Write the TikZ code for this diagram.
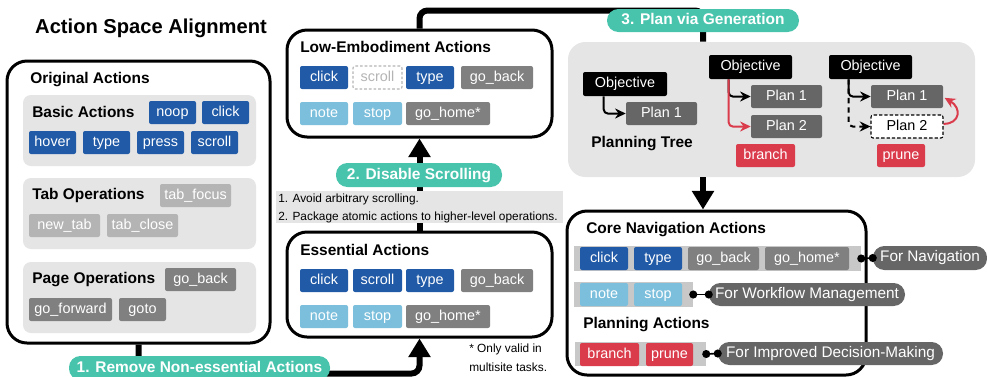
\documentclass[tikz,border=0pt]{standalone}
\usepackage{fontspec}
\setmainfont{Liberation Sans}
\usetikzlibrary{arrows.meta,fit}

\definecolor{actblue}{RGB}{33,90,166}
\definecolor{actsky}{RGB}{123,191,220}
\definecolor{actsilver}{RGB}{180,180,180}
\definecolor{actgray}{RGB}{128,128,128}
\definecolor{plangray}{RGB}{102,102,102}
\definecolor{actred}{RGB}{218,60,76}
\definecolor{stepteal}{RGB}{72,196,173}
\definecolor{panelgray}{RGB}{229,229,229}
\definecolor{stripgray}{RGB}{200,200,200}

\newcommand{\chipfont}{\fontsize{10.8}{13}\selectfont}
\newcommand{\headfont}{\fontsize{11.6}{14}\selectfont\bfseries}
\newcommand{\notefont}{\fontsize{8.9}{11}\selectfont}
\newcommand{\titlefont}{\fontsize{15.1}{18}\selectfont\bfseries}
\newcommand{\tagfont}{\fontsize{11.5}{14}\selectfont}

\begin{document}
\begin{tikzpicture}[x=0.75pt,y=0.75pt,yscale=-1,xscale=1,
  bigbox/.style={draw, line width=2.25pt, rounded corners=15pt, fill=white, inner sep=0pt},
  panel/.style={fill=panelgray, rounded corners=6pt, inner sep=0pt},
  cw/.style={minimum width=#1*0.75pt},
  ch/.style={minimum height=#1*0.75pt},
  chip/.style={rounded corners=1.5pt, inner sep=0pt, text=white, font=\chipfont, minimum height=17.25pt, text height=7.8pt, text depth=2.2pt},
  head/.style={anchor=west, inner sep=0pt, font=\headfont, text height=8.4pt, text depth=2.4pt},
  pill/.style={fill=stepteal, rounded corners=8.5pt, inner sep=0pt, text=white, font=\headfont, text height=8.4pt, text depth=2.4pt},
  notetext/.style={anchor=west, inner sep=0pt, font=\notefont},
  flow/.style={line width=4.5pt, rounded corners=6pt, -{Triangle[width=16pt,length=14pt]}},
  flowline/.style={line width=4.5pt, rounded corners=6pt},
  pa/.style={line width=1.5pt, rounded corners=3pt, -{Stealth[length=8pt,width=7.5pt]}},
  strip/.style={fill=stripgray, inner sep=0pt},
  tag/.style={fill=plangray, rounded corners=8.5pt, inner sep=0pt, text=white, font=\tagfont, text height=8.3pt, text depth=2.4pt},
  dotlink/.style={line width=1.2pt, {Circle[length=6pt]}-{Circle[length=6pt]}, shorten <=-3pt, shorten >=-3pt}]
\useasboundingbox (0,0) rectangle (987,376);

% Text Node
\node[font=\titlefont] (title) at (151,28) {Action Space Alignment};

%Shape: Original Actions
\node[bigbox, fit={(7,61) (270,343)}] (orig) {};
\node[head] (orig-t) at (30,79) {Original Actions};
\node[panel, fit={(23,95) (256,166)}] (basic) {};
\node[head] (basic-t) at (32,113) {Basic Actions};
\node[chip, fill=actblue, cw=47] (oa-noop) at (172.5,112.5) {noop};
\node[chip, fill=actblue, cw=47] (oa-click) at (225.5,112.5) {click};
\node[chip, fill=actblue, cw=47] (oa-hover) at (52.5,142.5) {hover};
\node[chip, fill=actblue, cw=47] (oa-type) at (106.5,142.5) {type};
\node[chip, fill=actblue, cw=47] (oa-press) at (160.5,142.5) {press};
\node[chip, fill=actblue, cw=47] (oa-scroll) at (214.5,142.5) {scroll};
\node[panel, fit={(23,178) (256,249)}] (tabop) {};
\node[head] (tabop-t) at (32,195) {Tab Operations};
\node[chip, fill=actsilver, cw=71] (oa-focus) at (195.5,195.5) {tab\_focus};
\node[chip, fill=actsilver, cw=71] (oa-new) at (64.5,225.5) {new\_tab};
\node[chip, fill=actsilver, cw=71] (oa-close) at (142.5,225.5) {tab\_close};
\node[panel, fit={(23,262) (256,333)}] (pageop) {};
\node[head] (pageop-t) at (32,279) {Page Operations};
\node[chip, fill=actgray, cw=71] (oa-back) at (200.5,279.5) {go\_back};
\node[chip, fill=actgray, cw=83] (oa-fwd) at (70.5,309.5) {go\_forward};
\node[chip, fill=actgray, cw=47] (oa-goto) at (142.5,309.5) {goto};

%Shape: Low-Embodiment Actions
\node[bigbox, fit={(287,30) (552,137)}] (low) {};
\node[head] (low-t) at (300,48) {Low-Embodiment Actions};
\node[chip, fill=actblue, cw=48] (le-click) at (324,77.5) {click};
\node[chip, fill=white, draw=actsilver, line width=0.8pt, dash pattern=on 2pt off 1.5pt, text=actsilver, cw=49] (le-scroll) at (377.5,77.5) {scroll};
\node[chip, fill=actblue, cw=48] (le-type) at (430,77.5) {type};
\node[chip, fill=actgray, cw=72] (le-back) at (497,77.5) {go\_back};
\node[chip, fill=actsky, cw=48] (le-note) at (324,113.5) {note};
\node[chip, fill=actsky, cw=49] (le-stop) at (377.5,113.5) {stop};
\node[chip, fill=actgray, cw=84] (le-home) at (448,113.5) {go\_home*};

%Shape: Essential Actions
\node[bigbox, fit={(287,232) (552,337)}] (ess) {};
\node[head] (ess-t) at (300,251) {Essential Actions};
\node[chip, fill=actblue, cw=48] (ea-click) at (324,280.5) {click};
\node[chip, fill=actblue, cw=49] (ea-scroll) at (377.5,280.5) {scroll};
\node[chip, fill=actblue, cw=48] (ea-type) at (430,280.5) {type};
\node[chip, fill=actgray, cw=72] (ea-back) at (497,280.5) {go\_back};
\node[chip, fill=actsky, cw=48] (ea-note) at (324,316.5) {note};
\node[chip, fill=actsky, cw=49] (ea-stop) at (377.5,316.5) {stop};
\node[chip, fill=actgray, cw=84] (ea-home) at (448,316.5) {go\_home*};
% Text Node
\node[notetext] (star1) at (469,349) {* Only valid in};
\node[notetext] (star2) at (469,367) {multisite tasks.};

%Shape: Planning Tree
\node[panel, rounded corners=13pt, fit={(568,42) (975,177)}] (tree) {};
\node[chip, fill=black, cw=84, ch=24] (obj1) at (625,84) {Objective};
\node[chip, fill=plangray, cw=71] (p1a) at (661.5,113.5) {Plan 1};
\node[font=\headfont, inner sep=0pt] (tree-t) at (642,144) {Planning Tree};
\node[chip, fill=black, cw=83, ch=24] (obj2) at (750.5,67) {Objective};
\node[chip, fill=plangray, cw=71] (p1b) at (786.5,96.5) {Plan 1};
\node[chip, fill=plangray, cw=71] (p2b) at (786.5,126.5) {Plan 2};
\node[chip, fill=actred, cw=59] (br) at (765.5,155.5) {branch};
\node[chip, fill=black, cw=83, ch=24] (obj3) at (870.5,67) {Objective};
\node[chip, fill=plangray, cw=72] (p1c) at (907,96.5) {Plan 1};
\node[chip, fill=white, draw=black, line width=0.8pt, dash pattern=on 2.5pt off 1.5pt, text=black, cw=72] (p2c) at (907,126.5) {Plan 2};
\node[chip, fill=actred, cw=48] (pr) at (901,155.5) {prune};
\draw[pa] ([xshift=15.75pt]obj1.south west) |- (p1a.west);
\draw[pa] ([xshift=15pt]obj2.south west) |- (p1b.west);
\draw[pa, actred] ([xshift=15pt]obj2.south west) |- (p2b.west);
\draw[pa] ([xshift=15pt]obj3.south west) |- (p1c.west);
\draw[pa, dash pattern=on 4pt off 3pt] ([xshift=15pt]obj3.south west) |- (p2c.west);
\draw[pa, actred] ([yshift=-2pt]p2c.east) .. controls (960,124) and (962,108) .. ([xshift=1pt,yshift=1pt]p1c.east);

%Shape: Core Navigation Actions
\node[bigbox, fit={(567,211) (866,375)}] (core) {};
\node[head] (core-t) at (586,229) {Core Navigation Actions};
\node[strip, fit={(574,246) (861,271)}] (s1) {};
\node[chip, fill=actblue, cw=48] (cn-click) at (604,258.5) {click};
\node[chip, fill=actblue, cw=48] (cn-type) at (658,258.5) {type};
\node[chip, fill=actgray, cw=71] (cn-back) at (723.5,258.5) {go\_back};
\node[chip, fill=actgray, cw=84] (cn-home) at (807,258.5) {go\_home*};
\node[strip, fit={(574,282) (693,307)}] (s2) {};
\node[chip, fill=actsky, cw=48] (cn-note) at (604,294.5) {note};
\node[chip, fill=actsky, cw=48] (cn-stop) at (658,294.5) {stop};
\node[head] (plan-t) at (583,324) {Planning Actions};
\node[strip, fit={(575,342) (706,366)}] (s3) {};
\node[chip, fill=actred, cw=59] (cn-branch) at (609.5,354.5) {branch};
\node[chip, fill=actred, cw=47] (cn-prune) at (669.5,354.5) {prune};
\node[tag, cw=114, ch=24] (t1) at (930,258) {For Navigation};
\node[tag, cw=196, ch=23] (t2) at (807,294.5) {For Workflow Management};
\node[tag, cw=225, ch=23] (t3) at (830.5,353.5) {For Improved Decision-Making};
\draw[dotlink] (s1.east) -- (t1.west);
\draw[dotlink] (s2.east) -- (t2.west);
\draw[dotlink] (s3.east) -- (t3.west);

% steps
\coordinate (genc) at (703,20.5);
\draw[flow] (orig.south) -- ++(0,29) -| (ess.south);
\draw[flow] (ess.north) -- (low.south);
\draw[flowline] (low.north) -- ++(0,-18) -| (genc |- tree.north);
\draw[flow] (genc |- tree.south) -- (genc |- core.north);
\node[pill, cw=261, ch=24] (rm) at (199.5,368) {1. Remove Non-essential Actions};
\node[pill, cw=166, ch=24] (dis) at (419,175) {2. Disable Scrolling};
\node[pill, cw=192, ch=23] (gen) at (genc) {3. Plan via Generation};
\node[fill=panelgray, inner sep=0pt, fit={(276,191) (563,223)}] (why) {};
\node[notetext] (why1) at (278,199) {1. Avoid arbitrary scrolling.};
\node[notetext] (why2) at (278,217) {2. Package atomic actions to higher-level operations.};

\end{tikzpicture}
\end{document}
